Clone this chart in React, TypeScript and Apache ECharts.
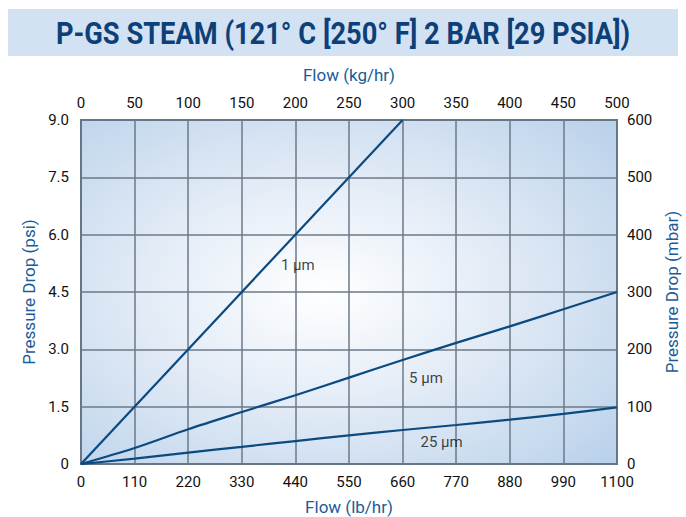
import React, { useEffect, useRef } from "react";
import * as echarts from "echarts";

const TITLE = "P-GS STEAM (121° C [250° F] 2 BAR [29 PSIA])";
const flowLbHr = [0, 110, 220, 330, 440, 550, 660, 770, 880, 990, 1100];
const series1um: [number, number][] = [[0, 0], [660, 9.0]];
const series5um = [0, 0.42, 0.91, 1.36, 1.8, 2.26, 2.72, 3.17, 3.6, 4.05, 4.5];
const series25um = [0, 0.14, 0.3, 0.45, 0.6, 0.75, 0.89, 1.02, 1.16, 1.31, 1.48];
const topTicksKgHr = [0, 50, 100, 150, 200, 250, 300, 350, 400, 450, 500];
const leftTicksPsi = [0, 1.5, 3.0, 4.5, 6.0, 7.5, 9.0];
const rightTicksMbar = [0, 100, 200, 300, 400, 500, 600];
const lineLabels = [
  { text: "1 µm", x: 445, y: 5.2 },
  { text: "5 µm", x: 708, y: 2.25 },
  { text: "25 µm", x: 740, y: 0.58 },
];

const FONT = "'Liberation Sans Narrow', 'Roboto', 'Liberation Sans', sans-serif";
const LINE_COLOR = "#0b4a80";
const NAME_COLOR = "#1a5c99";
const GRID_COLOR = "#6b7a88";

export default function App() {
  const ref = useRef<HTMLDivElement>(null);
  useEffect(() => {
    if (!ref.current) return;
    const chart = echarts.init(ref.current, undefined, { renderer: "svg" });
    const tickLabel = { color: "#111", fontSize: 15, fontFamily: FONT };
    const nameStyle = { color: NAME_COLOR, fontSize: 17, fontFamily: FONT };
    chart.setOption({
      animation: false,
      backgroundColor: "#ffffff",
      graphic: [
        {
          type: "rect",
          shape: { x: 8, y: 9, width: 670, height: 47 },
          style: { fill: "#d3e2f3" },
          silent: true,
        },
        {
          type: "text",
          x: 343,
          y: 33,
          scaleX: 0.88,
          style: {
            text: TITLE,
            fill: "#0d4079",
            font: `bold 31px ${FONT}`,
            align: "center",
            verticalAlign: "middle",
          },
        },
      ],
      grid: {
        left: 81,
        right: 69,
        top: 120,
        bottom: 53,
        containLabel: false,
        outerBoundsMode: "none",
        show: true,
        borderColor: "#5a6c7d",
        borderWidth: 2,
        backgroundColor: {
          type: "radial",
          x: 0.45,
          y: 0.5,
          r: 0.75,
          colorStops: [
            { offset: 0, color: "#ffffff" },
            { offset: 0.45, color: "#e2ebf6" },
            { offset: 1, color: "#b8d0ea" },
          ],
        },
      },
      xAxis: [
        {
          type: "value",
          position: "bottom",
          min: 0,
          max: 1100,
          interval: 110,
          name: "Flow (lb/hr)",
          nameLocation: "middle",
          nameGap: 34,
          nameTextStyle: nameStyle,
          axisLabel: { ...tickLabel, margin: 10, formatter: (v: number) => String(v) },
          axisLine: { show: false },
          axisTick: { show: false },
          splitLine: { show: true, lineStyle: { color: GRID_COLOR, width: 1.5 } },
        },
        {
          type: "value",
          position: "top",
          min: 0,
          max: 500,
          interval: 50,
          name: "Flow (kg/hr)",
          nameLocation: "middle",
          nameGap: 37,
          nameTextStyle: nameStyle,
          axisLabel: { ...tickLabel, margin: 10, formatter: (v: number) => String(v) },
          axisLine: { show: false },
          axisTick: { show: false },
          splitLine: { show: false },
        },
      ],
      yAxis: [
        {
          type: "value",
          position: "left",
          min: 0,
          max: 9,
          interval: 1.5,
          name: "Pressure Drop (psi)",
          nameLocation: "middle",
          nameGap: 41,
          nameTextStyle: nameStyle,
          axisLabel: {
            ...tickLabel,
            margin: 12,
            formatter: (v: number) => (v === 0 ? "0" : v.toFixed(1)),
          },
          axisLine: { show: false },
          axisTick: { show: false },
          splitLine: { show: true, lineStyle: { color: GRID_COLOR, width: 1.5 } },
        },
        {
          type: "value",
          position: "right",
          min: 0,
          max: 600,
          interval: 100,
          name: "Pressure Drop (mbar)",
          nameLocation: "middle",
          nameGap: 38,
          nameRotate: 90,
          nameTextStyle: nameStyle,
          axisLabel: { ...tickLabel, margin: 10 },
          axisLine: { show: false },
          axisTick: { show: false },
          splitLine: { show: false },
        },
      ],
      series: [
        {
          name: "1 µm",
          type: "line",
          data: series1um,
          showSymbol: false,
          lineStyle: { color: LINE_COLOR, width: 2.2 },
        },
        {
          name: "5 µm",
          type: "line",
          data: flowLbHr.map((x, i) => [x, series5um[i]]),
          showSymbol: false,
          smooth: 0.3,
          lineStyle: { color: LINE_COLOR, width: 2.2 },
        },
        {
          name: "25 µm",
          type: "line",
          data: flowLbHr.map((x, i) => [x, series25um[i]]),
          showSymbol: false,
          smooth: 0.3,
          lineStyle: { color: LINE_COLOR, width: 2.2 },
        },
        {
          name: "labels",
          type: "scatter",
          symbolSize: 0,
          data: lineLabels.map((l) => ({ value: [l.x, l.y], name: l.text })),
          label: {
            show: true,
            position: "inside",
            formatter: (p: any) => p.name,
            color: "#111",
            fontSize: 15,
            fontFamily: FONT,
          },
          silent: true,
        },
      ],
    });
    return () => chart.dispose();
  }, []);
  return <div ref={ref} style={{ width: 686, height: 517, position: "absolute", left: 0, top: 0 }} />;
}
